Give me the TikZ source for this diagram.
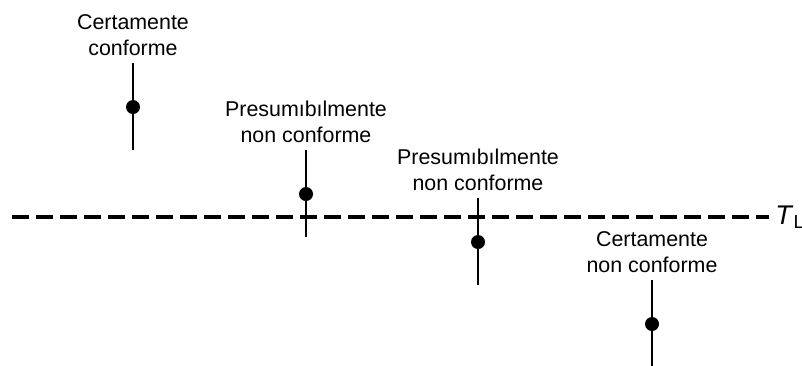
\documentclass[tikz,border=0pt]{standalone}
\usepackage{fontspec}
\setmainfont{Liberation Sans}
\usetikzlibrary{positioning}

\begin{document}
\begin{tikzpicture}[x=0.5pt, y=-0.5pt,
lbl/.style={align=center, inner sep=0pt, font=\fontsize{10.7}{13}\selectfont},
dot/.style={circle, fill=black, minimum size=7pt, inner sep=0pt},
bar/.style={line width=0.75pt},
limit/.style={line width=2pt, dash pattern=on 8.5pt off 3.5pt}]

    \useasboundingbox (0,0) rectangle (802,365);

    % limit T_L
    \coordinate (lim) at (12,217);
    \node[anchor=west, inner xsep=3pt, inner ysep=0pt, font=\fontsize{13.5}{15}\selectfont] (tl) at (769,217) {\textit{T}\textsubscript{L}};
    \draw[limit] (lim) -- (lim -| tl.west);

    % first result
    \coordinate (top1) at (133,63);
    \coordinate (bot1) at (133,150);
    \draw[bar] (top1) -- (bot1);
    \node[dot] (p1) at (133,107) {};
    \node[lbl, above=3.5pt of top1] (l1) {Certamente\\conforme};

    % second result
    \coordinate (top2) at (306,150);
    \coordinate (bot2) at (306,237);
    \draw[bar] (top2) -- (bot2);
    \node[dot] (p2) at (306,194) {};
    \node[lbl, above=3.5pt of top2] (l2) {Presumıbılmente\\non conforme};

    % third result
    \coordinate (top3) at (478,198);
    \coordinate (bot3) at (478,285);
    \draw[bar] (top3) -- (bot3);
    \node[dot] (p3) at (478,242) {};
    \node[lbl, above=3.5pt of top3] (l3) {Presumıbılmente\\non conforme};

    % fourth result
    \coordinate (top4) at (652,280);
    \coordinate (bot4) at (652,367);
    \draw[bar] (top4) -- (bot4);
    \node[dot] (p4) at (652,324) {};
    \node[lbl, above=3.5pt of top4] (l4) {Certamente\\non conforme};
    %
\end{tikzpicture}
\end{document}
